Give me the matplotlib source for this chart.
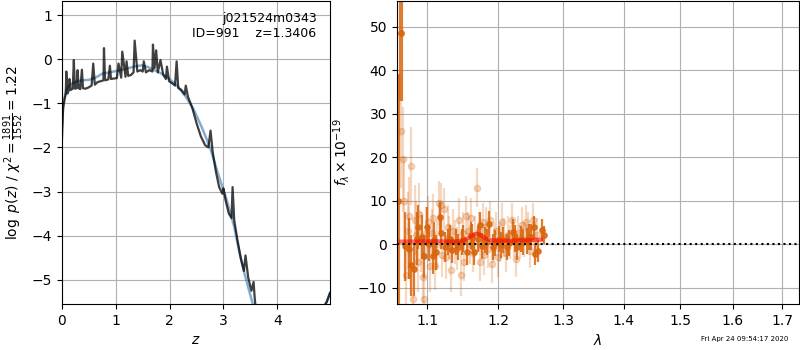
import numpy as np
import matplotlib
matplotlib.use('Agg')
import matplotlib.pyplot as plt
from matplotlib.ticker import FixedLocator, FixedFormatter, NullLocator

# --- p(z) panel ---
z_smooth = [0.0, 0.03, 0.08, 0.13, 0.19, 0.28, 0.37, 0.5, 0.62, 0.75, 0.88, 1.0, 1.12, 1.25, 1.37, 1.49,
            1.6, 1.72, 1.85, 2.0, 2.15, 2.3, 2.45, 2.6, 2.75, 2.9, 3.05, 3.2, 3.3, 3.4, 3.5, 3.6]
lnp_smooth = [-1.5, -0.95, -0.7, -0.6, -0.55, -0.5, -0.48, -0.47, -0.42, -0.33, -0.3, -0.27, -0.24, -0.2,
              -0.16, -0.14, -0.18, -0.25, -0.33, -0.45, -0.62, -0.85, -1.15, -1.55, -2.0, -2.6, -3.15,
              -3.8, -4.4, -4.9, -5.35, -5.8]
z_tail = [4.85, 4.92, 4.98]
lnp_tail = [-5.65, -5.5, -5.3]

z_pz = [0.0, 0.02, 0.05, 0.07, 0.08, 0.1, 0.13, 0.14, 0.16, 0.2, 0.22, 0.24, 0.27, 0.29, 0.31,
        0.34, 0.37, 0.39, 0.43, 0.48, 0.55, 0.58, 0.61, 0.66, 0.72, 0.77, 0.78, 0.8, 0.86,
        0.89, 0.91, 0.96, 1.02, 1.05, 1.1, 1.12, 1.18, 1.2, 1.23, 1.28, 1.33, 1.35, 1.4,
        1.46, 1.5, 1.52, 1.56, 1.62, 1.68, 1.69, 1.72, 1.75, 1.78, 1.83, 1.88, 1.93, 1.95,
        1.99, 2.05, 2.1, 2.13, 2.16, 2.22, 2.28, 2.3, 2.34, 2.42, 2.5, 2.58, 2.66, 2.72,
        2.76, 2.8, 2.86, 2.92, 2.98, 3.0, 3.04, 3.1, 3.15, 3.17, 3.2, 3.26, 3.32, 3.38,
        3.41, 3.46, 3.52, 3.56, 3.58, 3.62]
lnp_pz = [-1.8, -1.1, -0.9, -0.78, -0.28, -0.78, -0.7, -0.45, -0.7, -0.67, -0.02, -0.67, -0.66,
          -0.25, -0.66, -0.68, -0.24, -0.66, -0.67, -0.65, -0.6, -0.1, -0.58, -0.52, -0.5, -0.48,
          0.25, -0.48, -0.46, -0.15, -0.45, -0.44, -0.43, -0.1, -0.42, 0.17, -0.4, -0.05, -0.38,
          -0.36, -0.3, 0.42, -0.28, -0.25, -0.28, -0.05, -0.3, -0.25, -0.28, 0.33, -0.2, 0.2,
          -0.3, -0.02, -0.35, -0.45, -0.17, -0.5, -0.55, -0.6, -0.05, -0.65, -0.7, -0.8, -0.6,
          -0.85, -1.1, -1.45, -1.75, -1.95, -2.0, -1.62, -2.1, -2.55, -2.9, -3.05, -2.93, -3.2,
          -3.5, -3.6, -2.9, -3.65, -4.1, -4.5, -4.8, -4.45, -4.95, -5.25, -5.05, -5.4, -5.9]

# --- spectrum panel ---
wave_dark = [1.0703, 1.0756, 1.0782, 1.0827, 1.0860, 1.0882, 1.0926,
             1.0957, 1.1001, 1.1030, 1.1075, 1.1095, 1.1118, 1.1172,
             1.1194, 1.1240, 1.1290, 1.1318, 1.1345, 1.1395, 1.1425,
             1.1475, 1.1500, 1.1550, 1.1603, 1.1628, 1.1652, 1.1705, 1.1733,
             1.1760, 1.1812, 1.1840, 1.1870, 1.1925, 1.1955, 1.2015, 1.2045,
             1.2080, 1.2140, 1.2168, 1.2225, 1.2252, 1.2280, 1.2340, 1.2375,
             1.2440, 1.2470, 1.2500, 1.2535, 1.2560, 1.2600, 1.2660, 1.2700]
flux_dark = [-0.5, -1.0, -4.8, -5.8, 1.3, 4.0, 1.7,
             -2.8, 4.0, 0.1, -2.8, 1.0, -1.9, 6.3,
             2.5, -0.6, 0.5, 1.3, -1.4, 0.6, -0.6,
             0.6, 1.3, -1.7, 2.0, 1.6, -1.7, 1.1, 4.4,
             -0.5, 1.0, 0.5, 4.6, -0.6, 0.2, 1.1, -0.1,
             1.0, -0.7, 0.3, 2.8, 1.3, -0.6, 1.1, 0.5,
             0.7, 1.7, 1.7, 4.0, -2.2, -1.5, 3.2, 2.1]
err_dark = [8, 7, 7, 6, 6, 5, 5,
            5, 4.5, 4, 4, 4, 4, 3.5,
            3.5, 3.5, 3, 3, 3, 3, 3,
            3, 3, 3, 3, 3, 3, 3, 3,
            3, 3, 3, 3, 3, 3, 3, 3,
            3, 3, 3, 3, 3, 3, 3, 3,
            3, 3, 3, 2.5, 2.5, 2.5, 2.5, 2]

# big first pixels at the blue edge
wave_edge = [1.0620, 1.0660]
flux_edge = [10.0, 48.5]
err_edge = [29.0, 15.5]

wave_light = [1.0660, 1.0685, 1.0700, 1.0720, 1.0740, 1.0765, 1.0790, 1.0810, 1.0835, 1.0850,
              1.0875, 1.0895, 1.0920, 1.0945, 1.0965, 1.0990, 1.1010, 1.1040, 1.1065, 1.1085,
              1.1110, 1.1135, 1.1160, 1.1185, 1.1210, 1.1230, 1.1255, 1.1280, 1.1305, 1.1330,
              1.1360, 1.1385, 1.1410, 1.1440, 1.1465, 1.1490, 1.1515, 1.1540, 1.1565, 1.1590,
              1.1615, 1.1640, 1.1665, 1.1695, 1.1720, 1.1745, 1.1775, 1.1800, 1.1825, 1.1855,
              1.1880, 1.1910, 1.1940, 1.1970, 1.2000, 1.2030, 1.2060, 1.2095, 1.2125, 1.2155,
              1.2185, 1.2210, 1.2240, 1.2265, 1.2295, 1.2325, 1.2360, 1.2395, 1.2425, 1.2455,
              1.2485, 1.2520, 1.2550, 1.2580]
flux_light = [26.0, 19.5, 10.0, -7.0, 3.0, 6.5, 18.0, -12.5, 5.5, 2.0, -4.0, 7.0, 0.5, -7.5,
              -12.5, 2.5, 5.0, -5.0, 2.5, 6.0, -5.0, 0.0, 9.5, 9.0, -2.5, 8.0, -3.0, 4.0, 1.5,
              -6.0, 3.0, 0.5, -1.0, 5.5, -7.0, 2.5, -4.0, 6.5, 3.0, 0.0, 6.0, -2.0, 2.0, 13.0,
              3.0, -4.0, 5.0, -2.5, 4.0, -1.0, 5.5, -4.5, 0.5, 3.0, -3.0, 0.5, 5.0, 1.5, -2.0,
              2.0, 0.5, 5.5, 1.0, -3.5, 2.5, 0.5, 4.5, 1.0, 5.0, 3.5, -1.5, 5.5, 1.0, 2.0]
err_light = [13, 12, 10, 9, 9, 9, 9, 8, 8, 8, 7, 7, 7, 6, 6, 6, 6, 6, 5.5, 5.5, 5.5, 5.5,
             5, 5, 5, 5, 5, 5, 5, 5, 5, 5, 5, 5, 5, 5, 4.5, 4.5, 4.5, 4.5, 4.5, 4.5, 4.5, 4.5,
             4.5, 4.5, 4.5, 4.5, 4.5, 4.5, 4.5, 4.5, 4.5, 4.5, 4.5, 4.5, 4.5, 4.5, 4.5, 4.5,
             4, 4, 4, 4, 4, 4, 4, 4, 4, 4, 4, 4, 4, 4]

wave_model = [1.065, 1.08, 1.10, 1.12, 1.14, 1.15, 1.158, 1.165, 1.170, 1.175, 1.182, 1.19,
              1.20, 1.22, 1.24, 1.265]
flux_model = [0.6, 0.6, 0.65, 0.65, 0.6, 0.8, 1.5, 2.2, 2.4, 2.1, 1.3, 0.9, 0.8, 0.8, 0.9, 1.0]

xticks = [1.1, 1.2, 1.3, 1.4, 1.5, 1.6, 1.7]

fig = plt.figure(figsize=(8, 3.5), dpi=100)
ax1 = fig.add_axes([0.0775, 0.1314, 0.335, 0.866])
ax2 = fig.add_axes([0.496, 0.1314, 0.5025, 0.866])

ax1.plot(z_smooth, lnp_smooth, color='#4682b4', alpha=0.65, lw=1.8)
ax1.plot(z_tail, lnp_tail, color='#4682b4', alpha=0.65, lw=1.8)
ax1.plot(z_pz, lnp_pz, color='k', alpha=0.75, lw=1.6)
ax1.plot(z_tail, lnp_tail, color='k', alpha=0.75, lw=1.6)
ax1.set_xlim(0, 4.98)
ax1.set_ylim(-5.55, 1.32)
ax1.set_xticks([0, 1, 2, 3, 4])
ax1.set_yticks([-5, -4, -3, -2, -1, 0, 1])
ax1.grid()
ax1.set_xlabel('$z$')
ax1.set_ylabel(r'$\log\ p(z)$ / $\chi^2=\frac{1891}{1552}=1.22$')
ax1.text(0.95, 0.965, 'j021524m0343\nID=991    z=1.3406', transform=ax1.transAxes,
         ha='right', va='top', fontsize=9)

orange = '#d9650c'
ax2.errorbar(wave_light, flux_light, err_light, marker='o', linestyle='None',
             color=orange, alpha=0.25, ms=4.5, elinewidth=1.6)
ax2.errorbar(wave_edge, flux_edge, err_edge, marker='o', linestyle='None',
             color=orange, alpha=0.85, ms=4, elinewidth=3)
ax2.errorbar(wave_dark, flux_dark, err_dark, marker='o', linestyle='None',
             color=orange, alpha=0.85, ms=3.8, elinewidth=1.6)
ax2.plot(wave_model, flux_model, color='r', alpha=0.55, lw=3, zorder=5)
ax2.axhline(0, color='k', linestyle=':', lw=1.5, zorder=6)

ax2.set_xscale('log')
ax2.xaxis.set_major_locator(FixedLocator(xticks))
ax2.xaxis.set_major_formatter(FixedFormatter(['%.1f' % t for t in xticks]))
ax2.xaxis.set_minor_locator(NullLocator())
ax2.set_xlim(1.060, 1.735)
ax2.set_ylim(-13.75, 55.9)
ax2.grid()
ax2.set_xlabel(r'$\lambda$')
ax2.set_ylabel(r'$f_\lambda\times 10^{-19}$')

fig.text(0.931, 0.03, 'Fri Apr 24 09:54:17 2020', fontsize=5, ha='center', va='center')

fig.savefig('out.png', dpi=100)
